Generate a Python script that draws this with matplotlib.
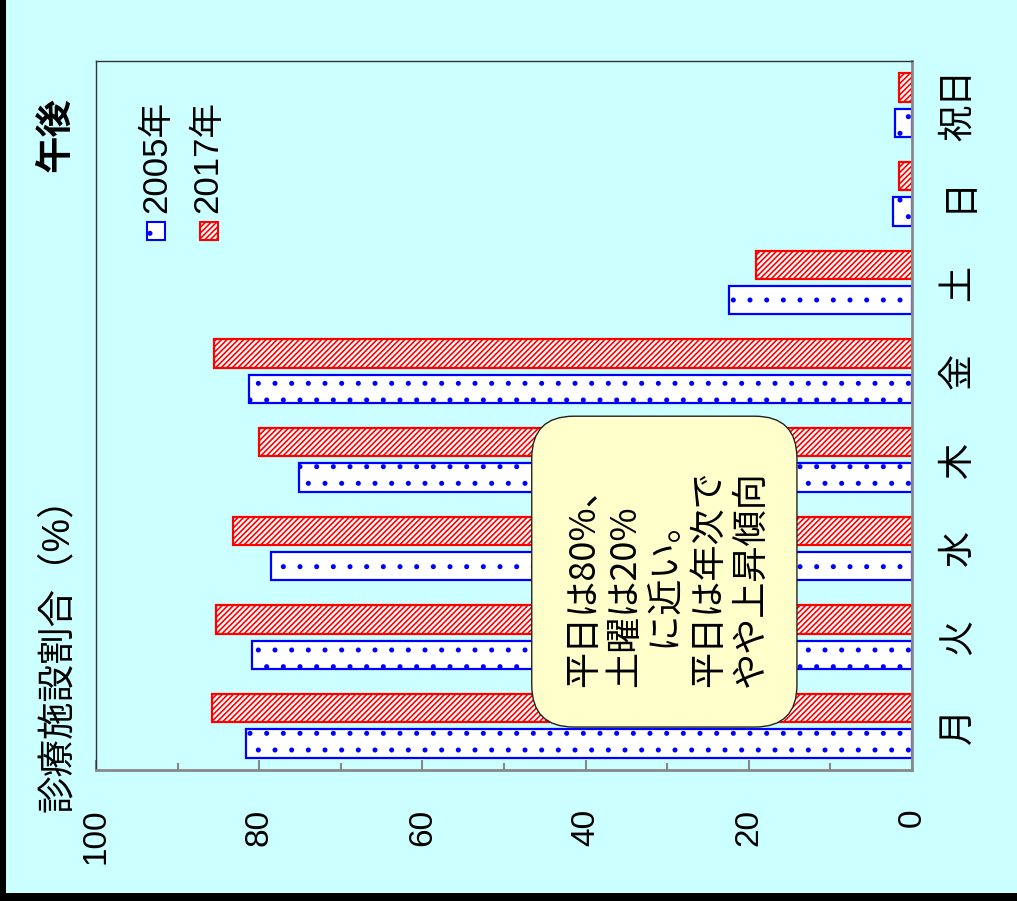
import matplotlib
matplotlib.use("Agg")
import matplotlib.pyplot as plt
from matplotlib.patches import Rectangle, FancyBboxPatch
import numpy as np

plt.rcParams['font.family'] = ['Liberation Sans', 'Noto Sans CJK JP', 'DejaVu Sans']
plt.rcParams['hatch.linewidth'] = 1.2

# data
days = ['月', '火', '水', '木', '金', '土', '日', '祝日']
share_2005 = [81.6, 80.9, 78.5, 75.1, 81.2, 22.4, 2.3, 2.1]
share_2017 = [85.8, 85.3, 83.2, 80.0, 85.5, 19.1, 1.6, 1.6]
series_names = ['2005年', '2017年']
value_ticks = [0, 20, 40, 60, 80, 100]

BG = '#CCFFFF'
BLUE = '#0000FF'
RED = '#FF0000'
GRAY = '#888888'

fig = plt.figure(figsize=(10.17, 9.01), dpi=100, facecolor=BG)
ax = fig.add_axes([96 / 1017, 1 - 770 / 901, 816 / 1017, 709 / 901])
ax.set_facecolor(BG)

# black frame strips (left and bottom)
fig.patches.append(Rectangle((0, 0), 6 / 1017, 1, transform=fig.transFigure,
                             facecolor='black', edgecolor='none', zorder=10))
fig.patches.append(Rectangle((0, 0), 1, 8 / 901, transform=fig.transFigure,
                             facecolor='black', edgecolor='none', zorder=10))

# chart is drawn rotated: values run right-to-left, days bottom-to-top
y = np.arange(len(days))
ax.barh(y - 0.2, share_2005, height=0.32, facecolor='white', edgecolor=BLUE,
        linewidth=1.6, hatch='.', zorder=2)
ax.barh(y + 0.2, share_2017, height=0.32, facecolor='white', edgecolor=RED,
        linewidth=1.6, hatch='//////', zorder=2)

ax.set_xlim(100, 0)
ax.set_ylim(-0.5, len(days) - 0.5)

ax.set_xticks(value_ticks)
ax.set_xticklabels([str(v) for v in value_ticks], rotation=90, fontsize=24)
ax.set_xticks(np.arange(0, 101, 10), minor=True)
ax.tick_params(axis='x', which='major', direction='in', length=7, width=1.5,
               color=GRAY, pad=28)
ax.tick_params(axis='x', which='minor', direction='in', length=5, width=1.5,
               color=GRAY)
for lab in ax.get_xticklabels():
    lab.set_va('top')

ax.yaxis.tick_right()
ax.set_yticks(y)
ax.set_yticklabels(days, rotation=90, fontsize=26, va='center')
ax.tick_params(axis='y', length=0, pad=21)

ax.spines['left'].set_color('#333333')
ax.spines['left'].set_linewidth(1.0)
ax.spines['top'].set_color('#333333')
ax.spines['top'].set_linewidth(1.0)
ax.spines['bottom'].set_color(GRAY)
ax.spines['bottom'].set_linewidth(2.0)
ax.spines['right'].set_color(GRAY)
ax.spines['right'].set_linewidth(2.0)

# legend built by hand (rotated)
leg_x = [0.0625, 0.1275]
leg_tx = [0.0748, 0.137]
leg_style = [(BLUE, '.'), (RED, '//////')]
for name, x0, tx, (col, hat) in zip(series_names, leg_x, leg_tx, leg_style):
    ax.add_patch(Rectangle((x0, 0.7475), 18 / 816, 18 / 709, transform=ax.transAxes,
                           facecolor='white', edgecolor=col, linewidth=1.5,
                           hatch=hat, zorder=5))
    ax.text(tx, 0.7856, name, transform=ax.transAxes, rotation=90,
            ha='center', va='bottom', fontsize=25, zorder=5)

# annotation box
box = FancyBboxPatch((0.534, 0.0606), 0.325, 0.4384, transform=ax.transAxes,
                     boxstyle='round,pad=0,rounding_size=0.0515',
                     mutation_aspect=816 / 709, facecolor='#FFFFCC',
                     edgecolor='#222222', linewidth=1.0, zorder=6)
ax.add_patch(box)
note = '平日は80%、\n土曜は20%\n　に近い。\n平日は年次で\nやや上昇傾向'
ax.text(0.700, 0.271, note, transform=ax.transAxes, rotation=90,
        ha='center', va='center', multialignment='left', fontsize=26,
        linespacing=1.2, family=['Noto Sans CJK JP', 'DejaVu Sans'], zorder=7)

# title and axis caption
fig.text(56 / 1017, 1 - 97 / 901, '午後', rotation=90, ha='center', va='top',
         fontsize=27, fontweight='bold')
fig.text(58 / 1017, 1 - 812 / 901, '診療施設割合（%）', rotation=90,
         ha='center', va='bottom', fontsize=27)

fig.savefig('out.png', dpi=100, facecolor=BG)
